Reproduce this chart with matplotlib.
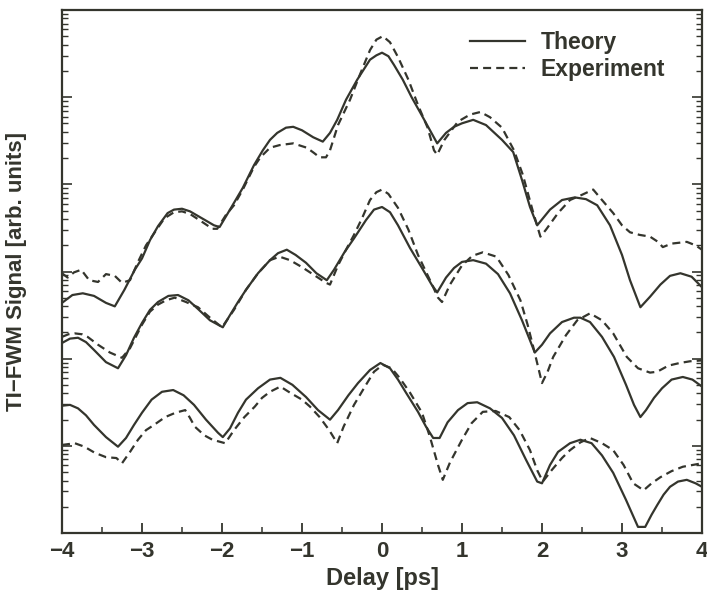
import numpy as np
import matplotlib.pyplot as plt
from matplotlib.ticker import LogLocator, NullFormatter, MultipleLocator

# Delay [ps] and log10 of the TI-FWM signal (three curve pairs)
t_top_th = [-4.0, -3.87, -3.74, -3.6, -3.45, -3.34, -3.22, -3.09, -3.0, -2.9, -2.8, -2.68, -2.6, -2.5,
            -2.4, -2.25, -2.1, -2.03, -1.9, -1.74, -1.6, -1.49, -1.4, -1.31, -1.2, -1.11, -1.0, -0.86,
            -0.74, -0.65, -0.56, -0.45, -0.31, -0.15, -0.07, 0.0, 0.08, 0.15, 0.26, 0.37, 0.48, 0.6,
            0.69, 0.8, 0.9, 1.0, 1.14, 1.3, 1.5, 1.64, 1.75, 1.85, 1.94, 2.1, 2.25, 2.41, 2.55, 2.69,
            2.85, 3.0, 3.1, 3.23, 3.35, 3.48, 3.6, 3.73, 3.87, 4.0]
s_top_th = [-3.36, -3.27, -3.25, -3.28, -3.36, -3.40, -3.21, -2.98, -2.85, -2.64, -2.48, -2.33, -2.29, -2.28,
            -2.31, -2.39, -2.47, -2.49, -2.29, -2.04, -1.78, -1.61, -1.49, -1.41, -1.35, -1.34, -1.38, -1.46,
            -1.51, -1.41, -1.26, -1.03, -0.80, -0.57, -0.52, -0.49, -0.53, -0.63, -0.80, -1.00, -1.18, -1.38,
            -1.53, -1.41, -1.34, -1.30, -1.26, -1.32, -1.49, -1.63, -1.95, -2.26, -2.47, -2.29, -2.18, -2.15,
            -2.17, -2.24, -2.47, -2.81, -3.10, -3.41, -3.29, -3.15, -3.05, -3.02, -3.06, -3.18]

t_top_ex = [-4.0, -3.93, -3.85, -3.76, -3.66, -3.55, -3.45, -3.34, -3.25, -3.15, -3.05, -2.95, -2.84,
            -2.72, -2.6, -2.5, -2.4, -2.25, -2.12, -2.06, -1.95, -1.85, -1.74, -1.6, -1.52, -1.4, -1.28,
            -1.11, -0.94, -0.85, -0.78, -0.7, -0.65, -0.55, -0.4, -0.28, -0.15, -0.07, 0.01, 0.1, 0.2,
            0.33, 0.45, 0.57, 0.65, 0.69, 0.78, 0.95, 1.1, 1.23, 1.35, 1.5, 1.65, 1.76, 1.88, 1.98, 2.05,
            2.2, 2.35, 2.5, 2.64, 2.75, 2.89, 3.0, 3.1, 3.22, 3.35, 3.45, 3.51, 3.62, 3.81, 3.92, 4.0]
s_top_ex = [-3.02, -3.07, -3.01, -2.98, -3.10, -3.12, -3.03, -3.05, -3.13, -3.10, -2.89, -2.70, -2.55,
            -2.39, -2.32, -2.31, -2.34, -2.43, -2.51, -2.51, -2.35, -2.24, -2.06, -1.80, -1.69, -1.58, -1.55,
            -1.53, -1.58, -1.64, -1.69, -1.69, -1.61, -1.32, -1.03, -0.75, -0.46, -0.34, -0.30, -0.37, -0.54,
            -0.80, -1.09, -1.35, -1.61, -1.66, -1.49, -1.28, -1.20, -1.17, -1.23, -1.35, -1.61, -1.89, -2.29,
            -2.60, -2.52, -2.33, -2.18, -2.12, -2.06, -2.18, -2.33, -2.47, -2.55, -2.58, -2.60, -2.66, -2.72,
            -2.68, -2.66, -2.70, -2.75]

t_mid_th = [-4.0, -3.9, -3.8, -3.7, -3.6, -3.45, -3.3, -3.2, -3.1, -3.0, -2.9, -2.8, -2.67, -2.55, -2.42,
            -2.3, -2.15, -1.99, -1.9, -1.8, -1.7, -1.55, -1.4, -1.3, -1.19, -1.08, -0.95, -0.82, -0.69,
            -0.6, -0.47, -0.35, -0.2, -0.1, 0.0, 0.1, 0.2, 0.35, 0.5, 0.62, 0.69, 0.8, 0.9, 1.0, 1.14,
            1.3, 1.45, 1.6, 1.75, 1.85, 1.91, 2.0, 2.1, 2.25, 2.4, 2.48, 2.6, 2.75, 2.9, 3.05, 3.15, 3.23,
            3.3, 3.4, 3.5, 3.62, 3.76, 3.88, 4.0]
s_mid_th = [-3.82, -3.77, -3.76, -3.81, -3.90, -4.04, -4.11, -3.96, -3.76, -3.59, -3.44, -3.35, -3.28,
            -3.27, -3.33, -3.43, -3.56, -3.64, -3.50, -3.35, -3.21, -3.02, -2.87, -2.79, -2.75, -2.81, -2.90,
            -3.02, -3.10, -2.98, -2.78, -2.62, -2.41, -2.29, -2.26, -2.32, -2.47, -2.73, -2.96, -3.15, -3.24,
            -3.07, -2.96, -2.89, -2.87, -2.91, -3.03, -3.25, -3.56, -3.79, -3.93, -3.84, -3.71, -3.58, -3.53,
            -3.53, -3.58, -3.75, -3.98, -4.30, -4.53, -4.67, -4.59, -4.45, -4.34, -4.24, -4.21, -4.24, -4.32]

t_mid_ex = [-4.0, -3.92, -3.84, -3.75, -3.68, -3.55, -3.4, -3.25, -3.15, -3.0, -2.9, -2.8, -2.7, -2.59,
            -2.45, -2.3, -2.15, -2.0, -1.85, -1.7, -1.55, -1.4, -1.28, -1.15, -1.0, -0.85, -0.7, -0.65,
            -0.55, -0.45, -0.35, -0.25, -0.15, -0.07, 0.0, 0.08, 0.2, 0.33, 0.45, 0.6, 0.7, 0.75, 0.85,
            1.0, 1.13, 1.26, 1.43, 1.58, 1.73, 1.82, 1.9, 2.0, 2.07, 2.14, 2.3, 2.44, 2.6, 2.75, 2.89,
            3.06, 3.2, 3.35, 3.44, 3.58, 3.72, 3.85, 4.0]
s_mid_ex = [-3.75, -3.72, -3.71, -3.72, -3.75, -3.84, -3.93, -3.99, -3.88, -3.61, -3.46, -3.38, -3.33,
            -3.30, -3.35, -3.41, -3.53, -3.64, -3.44, -3.21, -3.02, -2.87, -2.83, -2.87, -2.95, -3.04, -3.13,
            -3.15, -2.93, -2.75, -2.58, -2.39, -2.18, -2.09, -2.06, -2.11, -2.27, -2.52, -2.81, -3.10, -3.30,
            -3.35, -3.15, -2.93, -2.82, -2.78, -2.83, -3.04, -3.33, -3.61, -3.90, -4.28, -4.15, -3.98, -3.73,
            -3.56, -3.48, -3.56, -3.71, -3.98, -4.11, -4.16, -4.15, -4.08, -4.05, -4.03, -4.02]

t_bot_th = [-4.0, -3.9, -3.8, -3.7, -3.6, -3.45, -3.3, -3.2, -3.1, -3.0, -2.88, -2.75, -2.61, -2.48,
            -2.35, -2.2, -2.05, -1.99, -1.9, -1.8, -1.7, -1.55, -1.4, -1.27, -1.12, -0.95, -0.8, -0.65,
            -0.55, -0.42, -0.3, -0.15, -0.02, 0.1, 0.2, 0.3, 0.45, 0.55, 0.64, 0.72, 0.82, 0.95, 1.07,
            1.19, 1.35, 1.5, 1.65, 1.8, 1.94, 2.0, 2.1, 2.2, 2.35, 2.48, 2.62, 2.75, 2.89, 3.05, 3.2,
            3.29, 3.37, 3.44, 3.52, 3.6, 3.7, 3.81, 3.92, 4.0]
s_bot_th = [-4.54, -4.53, -4.57, -4.65, -4.76, -4.90, -5.01, -4.91, -4.76, -4.62, -4.47, -4.38, -4.36,
            -4.42, -4.53, -4.70, -4.85, -4.90, -4.80, -4.62, -4.47, -4.34, -4.24, -4.22, -4.30, -4.44, -4.59,
            -4.70, -4.59, -4.42, -4.28, -4.13, -4.05, -4.11, -4.24, -4.39, -4.61, -4.78, -4.91, -4.91, -4.73,
            -4.59, -4.51, -4.50, -4.57, -4.68, -4.88, -5.16, -5.41, -5.43, -5.22, -5.07, -4.97, -4.93, -4.97,
            -5.11, -5.31, -5.62, -5.93, -5.93, -5.79, -5.68, -5.56, -5.47, -5.41, -5.39, -5.43, -5.47]

t_bot_ex = [-4.0, -3.92, -3.84, -3.72, -3.59, -3.45, -3.32, -3.25, -3.15, -3.05, -2.95, -2.85, -2.71,
            -2.58, -2.46, -2.4, -2.34, -2.22, -2.12, -1.96, -1.85, -1.72, -1.59, -1.5, -1.4, -1.27, -1.15,
            -1.0, -0.9, -0.78, -0.66, -0.56, -0.48, -0.35, -0.2, -0.1, 0.01, 0.12, 0.22, 0.35, 0.5, 0.6,
            0.7, 0.76, 0.85, 1.0, 1.12, 1.26, 1.42, 1.59, 1.72, 1.85, 1.94, 2.01, 2.12, 2.25, 2.35, 2.48,
            2.6, 2.75, 2.89, 3.02, 3.14, 3.27, 3.37, 3.48, 3.62, 3.76, 3.88, 4.0]
s_bot_ex = [-4.99, -4.98, -4.97, -5.01, -5.08, -5.13, -5.14, -5.20, -5.07, -4.93, -4.82, -4.76, -4.67,
            -4.62, -4.59, -4.68, -4.78, -4.88, -4.93, -4.97, -4.82, -4.67, -4.55, -4.45, -4.38, -4.32, -4.39,
            -4.47, -4.55, -4.67, -4.82, -4.97, -4.78, -4.53, -4.30, -4.15, -4.07, -4.11, -4.22, -4.39, -4.62,
            -4.90, -5.22, -5.39, -5.19, -4.93, -4.74, -4.61, -4.60, -4.67, -4.82, -5.05, -5.28, -5.41, -5.28,
            -5.14, -5.05, -4.96, -4.91, -4.97, -5.05, -5.22, -5.43, -5.51, -5.43, -5.36, -5.29, -5.24, -5.22,
            -5.20]

ink = '#34352d'
plt.rcParams['font.family'] = ['Liberation Sans', 'DejaVu Sans']
plt.rcParams['font.weight'] = 'bold'

fig = plt.figure(figsize=(7.07, 5.94), dpi=100)
ax = fig.add_axes([62 / 707, 61 / 594, 640 / 707, 523 / 594])

th_style = dict(color=ink, lw=1.6, ls='-', solid_joinstyle='round')
ex_style = dict(color=ink, lw=1.6, ls=(0, (3.6, 2.3)))

ax.plot(t_top_th, 10 ** np.array(s_top_th), label='Theory', **th_style)
ax.plot(t_top_ex, 10 ** np.array(s_top_ex), label='Experiment', **ex_style)
ax.plot(t_mid_th, 10 ** np.array(s_mid_th), **th_style)
ax.plot(t_mid_ex, 10 ** np.array(s_mid_ex), **ex_style)
ax.plot(t_bot_th, 10 ** np.array(s_bot_th), **th_style)
ax.plot(t_bot_ex, 10 ** np.array(s_bot_ex), **ex_style)

ax.set_yscale('log')
ax.set_xlim(-4, 4)
ax.set_ylim(1e-6, 1)

ax.xaxis.set_minor_locator(MultipleLocator(0.5))
ax.set_xticks(range(-4, 5))
ax.set_xticklabels([str(v).replace('-', '\u2212') for v in range(-4, 5)])
ax.yaxis.set_major_locator(LogLocator(base=10, numticks=10))
ax.yaxis.set_minor_locator(LogLocator(base=10, subs=np.arange(2, 10), numticks=10))
ax.yaxis.set_major_formatter(NullFormatter())
ax.yaxis.set_minor_formatter(NullFormatter())

ax.tick_params(axis='x', which='major', direction='in', length=7, width=1.3, colors=ink,
               labelsize=16, pad=6, top=False)
ax.tick_params(axis='x', which='minor', direction='in', length=4, width=1.1, colors=ink, top=False)
ax.tick_params(axis='y', which='major', direction='in', length=7, width=1.2, colors=ink,
               left=True, right=True)
ax.tick_params(axis='y', which='minor', direction='in', length=4, width=1.0, colors=ink,
               left=True, right=True)
for sp in ax.spines.values():
    sp.set_color(ink)
    sp.set_linewidth(1.6)

ax.set_xlabel('Delay [ps]', fontsize=17, fontweight='bold', color=ink, labelpad=3)
ax.set_ylabel('TI\u2212FWM Signal [arb. units]', fontsize=16, fontweight='bold', color=ink, labelpad=22)

leg = ax.legend(loc='upper right', bbox_to_anchor=(0.968, 0.99), frameon=False, handlelength=2.4,
                handletextpad=0.7, labelspacing=0.15, borderaxespad=0.3,
                prop={'size': 16.5, 'weight': 'bold'})
for txt in leg.get_texts():
    txt.set_color(ink)

fig.savefig('out.png', dpi=100)
